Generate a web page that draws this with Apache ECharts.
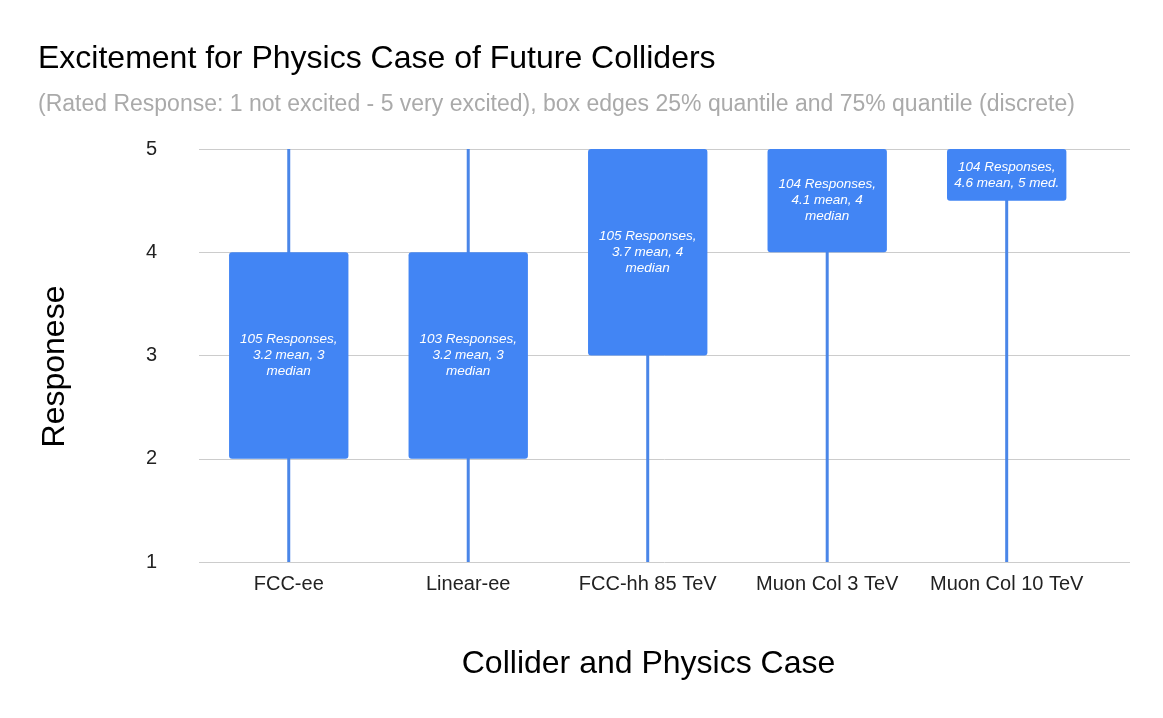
<!DOCTYPE html>
<html>
<head>
<meta charset="utf-8">
<script src="https://cdn.jsdelivr.net/npm/echarts@6/dist/echarts.min.js"></script>
<style>
html,body{margin:0;padding:0;background:#fff;}
#chart{width:1163px;height:718px;}
</style>
</head>
<body>
<div id="chart"></div>
<script>
var categories = ['FCC-ee', 'Linear-ee', 'FCC-hh 85 TeV', 'Muon Col 3 TeV', 'Muon Col 10 TeV'];
var lows = [1, 1, 1, 1, 1];
var q1 = [2, 2, 3, 4, 4.5];
var q3 = [4, 4, 5, 5, 5];
var highs = [5, 5, 5, 5, 5];
var boxLabels = [
	'105 Responses,\n3.2 mean, 3\nmedian',
	'103 Responses,\n3.2 mean, 3\nmedian',
	'105 Responses,\n3.7 mean, 4\nmedian',
	'104 Responses,\n4.1 mean, 4\nmedian',
	'104 Responses,\n4.6 mean, 5 med.'
];

var font = 'Liberation Sans, Arial, sans-serif';
var rows = [];
for (var i = 0; i < categories.length; i++) {
	rows.push([i, lows[i], q1[i], q3[i], highs[i]]);
}

var chart = echarts.init(document.getElementById('chart'));
var option = {
	backgroundColor: '#fff',
	title: [{
		text: 'Excitement for Physics Case of Future Colliders',
		left: 33, top: 38,
		textStyle: {fontFamily: font, fontSize: 32, fontWeight: 'normal', color: '#000'}
	}, {
		text: '(Rated Response: 1 not excited - 5 very excited), box edges 25% quantile and 75% quantile (discrete)',
		left: 33, top: 88,
		textStyle: {fontFamily: font, fontSize: 23, fontWeight: 'normal', color: '#aaaaaa'}
	}],
	grid: {left: 199, right: 33, top: 149, bottom: 156},
	xAxis: {
		type: 'value',
		min: -0.5,
		max: 4.687,
		name: 'Collider and Physics Case',
		nameLocation: 'middle',
		nameGap: 86,
		nameTextStyle: {fontFamily: font, fontSize: 32, color: '#000', padding: [0, 32, 0, 0]},
		axisLine: {show: false},
		axisTick: {show: false},
		splitLine: {show: false},
		axisLabel: {
			customValues: [0, 1, 2, 3, 4],
			formatter: function (v) { return categories[Math.round(v)]; },
			fontFamily: font, fontSize: 20, color: '#222', margin: 12
		}
	},
	yAxis: {
		type: 'value',
		min: 1, max: 5, interval: 1,
		name: 'Responese',
		nameLocation: 'middle',
		nameGap: 128,
		nameTextStyle: {fontFamily: font, fontSize: 32, color: '#000', padding: [0, 22, 0, 0]},
		axisLine: {show: false},
		axisTick: {show: false},
		splitLine: {lineStyle: {color: '#cccccc', width: 1}},
		axisLabel: {fontFamily: font, fontSize: 20, color: '#222', margin: 42}
	},
	series: [{
		type: 'custom',
		data: rows,
		encode: {x: 0, y: [1, 2, 3, 4]},
		renderItem: function (params, api) {
			var idx = api.value(0);
			var pLow = api.coord([idx, api.value(1)]);
			var pQ1 = api.coord([idx, api.value(2)]);
			var pQ3 = api.coord([idx, api.value(3)]);
			var pHigh = api.coord([idx, api.value(4)]);
			var bw = api.size([1, 0])[0] * 0.665;
			var cx = pLow[0];
			return {
				type: 'group',
				children: [{
					type: 'line',
					shape: {x1: cx, y1: pLow[1], x2: cx, y2: pHigh[1]},
					style: {stroke: '#4a86e8', lineWidth: 3}
				}, {
					type: 'rect',
					shape: {x: cx - bw / 2, y: pQ3[1], width: bw, height: pQ1[1] - pQ3[1], r: 3},
					style: {fill: '#4285f4'}
				}, {
					type: 'text',
					style: {
						text: boxLabels[params.dataIndex],
						x: cx, y: (pQ1[1] + pQ3[1]) / 2,
						align: 'center', verticalAlign: 'middle',
						fill: '#fff', fontFamily: font, fontSize: 13.5,
						fontStyle: 'italic', lineHeight: 16
					}
				}]
			};
		}
	}]
};
chart.setOption(option);
</script>
</body>
</html>
